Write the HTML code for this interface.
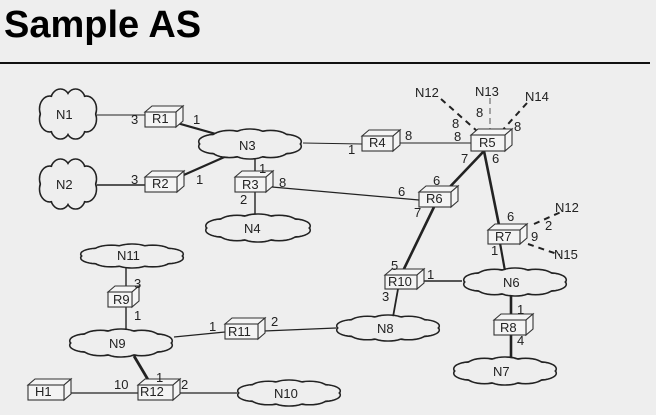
<!DOCTYPE html>
<html><head><meta charset="utf-8"><style>
html,body{margin:0;padding:0;background:#eeeeee;}
body{width:656px;height:415px;overflow:hidden;position:relative;font-family:"Liberation Sans",sans-serif;}
h1{position:absolute;left:4px;top:4px;margin:0;font-size:38px;font-weight:bold;color:#000;letter-spacing:0px;}
#rule{position:absolute;left:0;top:62px;width:650px;height:2px;background:#111;}
svg{position:absolute;left:0;top:0;}
svg text{font-family:"Liberation Sans",sans-serif;font-size:13px;fill:#222;}
</style></head><body>
<h1>Sample AS</h1>
<div id="rule"></div>
<svg width="656" height="415" viewBox="0 0 656 415">
<g id="lines" stroke="#222" fill="none">
<line x1="97" y1="115" x2="145" y2="115" stroke-width="1"/>
<line x1="177" y1="123" x2="223" y2="136" stroke-width="2.2"/>
<line x1="97" y1="185" x2="145" y2="185" stroke-width="1.6"/>
<line x1="177" y1="178" x2="229" y2="155" stroke-width="2.2"/>
<line x1="255" y1="158" x2="255" y2="176" stroke-width="1.4"/>
<line x1="255" y1="192" x2="255" y2="214" stroke-width="1.4"/>
<line x1="272" y1="187" x2="419" y2="200" stroke-width="1.2"/>
<line x1="303" y1="143" x2="362" y2="144" stroke-width="1"/>
<line x1="399" y1="143" x2="471" y2="143" stroke-width="1"/>
<line x1="484" y1="151" x2="445" y2="192" stroke-width="2.6"/>
<line x1="484" y1="151" x2="500" y2="230" stroke-width="2.6"/>
<line x1="434" y1="207" x2="401" y2="275" stroke-width="2.6"/>
<line x1="500" y1="243" x2="505" y2="271" stroke-width="2.2"/>
<line x1="423" y1="281" x2="462" y2="281" stroke-width="1.6"/>
<line x1="398" y1="289" x2="393" y2="317" stroke-width="1.8"/>
<line x1="511" y1="294" x2="511" y2="320" stroke-width="2.6"/>
<line x1="511" y1="335" x2="511" y2="359" stroke-width="2.6"/>
<line x1="264" y1="331" x2="336" y2="328" stroke-width="1.2"/>
<line x1="174" y1="337" x2="225" y2="332" stroke-width="1.2"/>
<line x1="126" y1="268" x2="126" y2="292" stroke-width="1.4"/>
<line x1="126" y1="307" x2="126" y2="330" stroke-width="1.4"/>
<line x1="134" y1="356" x2="150" y2="383" stroke-width="2.8"/>
<line x1="71" y1="393" x2="138" y2="393" stroke-width="1.2"/>
<line x1="179" y1="393" x2="237" y2="393" stroke-width="1.2"/>
<g stroke-dasharray="6,5" stroke-width="2">
<line x1="441" y1="99" x2="477" y2="131"/>
<line x1="527" y1="103" x2="500" y2="133"/>
<line x1="534" y1="224" x2="561" y2="212"/>
<line x1="528" y1="244" x2="560" y2="255"/>
</g>
<line x1="490" y1="98" x2="490" y2="133" stroke="#888" stroke-width="1.5" stroke-dasharray="6,4"/>
</g>
<g id="clouds"></g>
<g id="boxes"></g>
<g id="labels">
<text x="56" y="119" font-size="14">N1</text>
<text x="56" y="189" font-size="14">N2</text>
<text x="239" y="150" font-size="14">N3</text>
<text x="244" y="233" font-size="14">N4</text>
<text x="117" y="260" font-size="14">N11</text>
<text x="109" y="348" font-size="14">N9</text>
<text x="274" y="398" font-size="14">N10</text>
<text x="377" y="333" font-size="14">N8</text>
<text x="503" y="287" font-size="14">N6</text>
<text x="493" y="376" font-size="14">N7</text>
<text x="415" y="97" font-size="14">N12</text>
<text x="475" y="96" font-size="14">N13</text>
<text x="525" y="101" font-size="14">N14</text>
<text x="555" y="212" font-size="14">N12</text>
<text x="554" y="259" font-size="14">N15</text>
<text x="152" y="123" font-size="11">R1</text>
<text x="152" y="188" font-size="11">R2</text>
<text x="242" y="189" font-size="11">R3</text>
<text x="369" y="147" font-size="11">R4</text>
<text x="479" y="147" font-size="11">R5</text>
<text x="426" y="203" font-size="11">R6</text>
<text x="495" y="241" font-size="11">R7</text>
<text x="500" y="332" font-size="11">R8</text>
<text x="113" y="304" font-size="11">R9</text>
<text x="388" y="286" font-size="11">R10</text>
<text x="228" y="336" font-size="11">R11</text>
<text x="140" y="396" font-size="11">R12</text>
<text x="35" y="396" font-size="11">H1</text>
<text x="131" y="124">3</text><text x="193" y="124">1</text>
<text x="131" y="184">3</text><text x="196" y="184">1</text>
<text x="259" y="173">1</text><text x="279" y="187">8</text>
<text x="240" y="204">2</text>
<text x="348" y="154">1</text><text x="405" y="140">8</text>
<text x="454" y="141">8</text>
<text x="452" y="128">8</text><text x="476" y="117">8</text><text x="514" y="131">8</text>
<text x="461" y="163">7</text><text x="492" y="163">6</text>
<text x="433" y="185">6</text><text x="398" y="196">6</text>
<text x="414" y="217">7</text>
<text x="507" y="221">6</text>
<text x="545" y="230">2</text><text x="531" y="241">9</text>
<text x="491" y="255">1</text>
<text x="391" y="270">5</text><text x="427" y="279">1</text>
<text x="382" y="301">3</text>
<text x="517" y="314">1</text><text x="517" y="345">4</text>
<text x="271" y="326">2</text><text x="209" y="331">1</text>
<text x="134" y="288">3</text><text x="134" y="320">1</text>
<text x="156" y="382">1</text>
<text x="114" y="389">10</text><text x="181" y="389">2</text>
</g>
</svg>
<script>
var NS="http://www.w3.org/2000/svg";
function el(t,a,p){var e=document.createElementNS(NS,t);for(var k in a)e.setAttribute(k,a[k]);p.appendChild(e);return e;}
var cg=document.getElementById("clouds");
function cloud(cx,cy,rx,ry,n){
  var bx=rx*0.34, by=ry*0.5;
  if(ry>rx){bx=rx*0.5;by=ry*0.34;}
  var pts=[];
  for(var i=0;i<n;i++){var a=2*Math.PI*(i+0.5)/n;pts.push([cx+(rx-bx)*Math.cos(a),cy+(ry-by)*Math.sin(a)]);}
  var g1=el("g",{},cg),g2=el("g",{},cg);
  pts.forEach(function(p){el("ellipse",{cx:p[0],cy:p[1],rx:bx,ry:by,fill:"none",stroke:"#222","stroke-width":"1.6"},g1);
    el("ellipse",{cx:p[0],cy:p[1],rx:bx-0.9,ry:by-0.9,fill:"#eeeeee"},g2);});
  el("ellipse",{cx:cx,cy:cy,rx:rx-bx,ry:ry-by,fill:"#eeeeee"},g2);
}
cloud(68,114,30,26,8);cloud(68,184,30,26,8);
cloud(250,144,53,15,10);cloud(258,228,54,14,10);
cloud(132,256,53,12,10);cloud(121,343,53,14,10);
cloud(289,393,53,13,10);cloud(388,328,53,13,10);
cloud(515,282,53,14,10);cloud(505,371,53,14,10);
var bg=document.getElementById("boxes");
function box(x,y,w,h){var d=7,e=6;
  var s={fill:"#f4f4f4",stroke:"#333","stroke-width":"1.1"};
  el("polygon",Object.assign({points:[x,y,x+d,y-e,x+w+d,y-e,x+w,y].join(" ")},s),bg);
  el("polygon",Object.assign({points:[x+w,y,x+w+d,y-e,x+w+d,y+h-e,x+w,y+h].join(" ")},s),bg);
  el("rect",Object.assign({x:x,y:y,width:w,height:h},s),bg);}
box(145,112,31,15);box(145,177,32,15);box(235,177,31,15);
box(362,136,31,15);box(471,135,34,16);box(419,192,32,15);
box(488,230,32,14);box(494,320,32,15);box(108,292,24,15);
box(385,275,32,14);box(225,324,33,15);box(138,385,35,15);box(28,385,36,15);
</script>
</body></html>
